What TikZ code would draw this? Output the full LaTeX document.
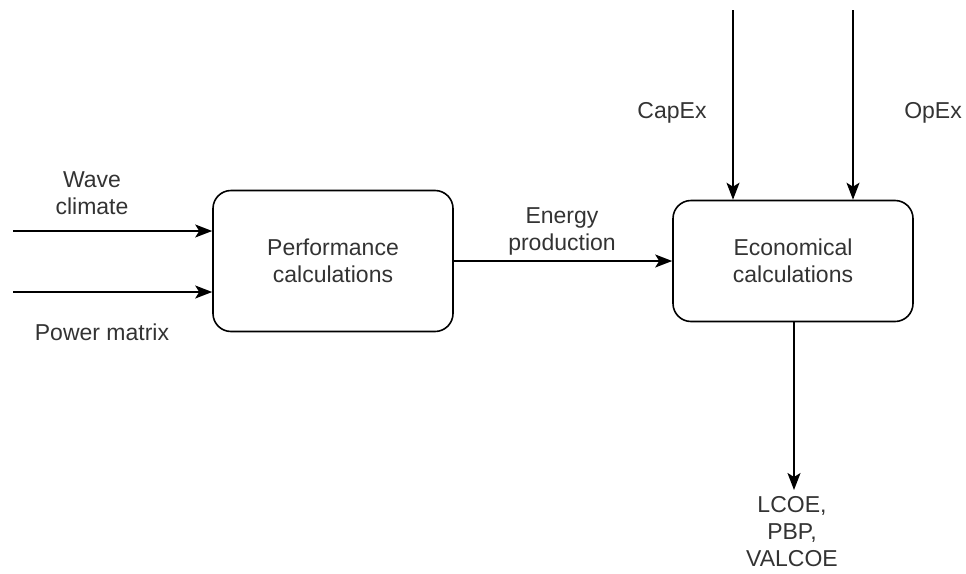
\documentclass[tikz,border=0pt]{standalone}
\usepackage{fontspec}
\setmainfont{Liberation Sans}
\usetikzlibrary{arrows.meta}
\definecolor{txt}{HTML}{333333}
\tikzset{
  procbox/.style={draw=black, line width=1.6pt, rounded corners=18pt, minimum width=240pt, inner sep=0pt, align=center, text=txt, font=\fontsize{23}{27}\selectfont},
  lbl/.style={inner sep=0pt, align=center, text=txt, font=\fontsize{23}{27}\selectfont},
  flow/.style={draw=black, line width=1.6pt, -{Stealth[length=17pt,width=13pt,inset=4pt]}}
}
\begin{document}
\begin{tikzpicture}[x=1pt,y=-1pt]
\useasboundingbox (0,0) rectangle (966,573);
\node[procbox, minimum height=141pt] (perf) at (333,261) {Performance\\calculations};
\node[procbox, minimum height=121pt] (econ) at (793,261) {Economical\\calculations};
\coordinate (wcs) at (13,231);
\coordinate (pms) at (13,292);
\coordinate (cxs) at (733,10);
\coordinate (oxs) at (853,10);
\coordinate (out) at (794,490);
\draw[flow] (wcs) -- (wcs -| perf.west);
\draw[flow] (pms) -- (pms -| perf.west);
\draw[flow] (perf.east) -- (econ.west);
\draw[flow] (cxs) -- (cxs |- econ.north);
\draw[flow] (oxs) -- (oxs |- econ.north);
\draw[flow] (out |- econ.south) -- (out);
\node[lbl] (wc) at (92,193) {Wave\\climate};
\node[lbl] (pm) at (102,332) {Power matrix};
\node[lbl] (ep) at (562,231) {Energy\\production};
\node[lbl] (cx) at (672,113) {CapEx};
\node[lbl] (ox) at (933,113) {OpEx};
\node[lbl] (res) at (792,532) {LCOE,\\PBP,\\VALCOE};
\end{tikzpicture}
\end{document}
